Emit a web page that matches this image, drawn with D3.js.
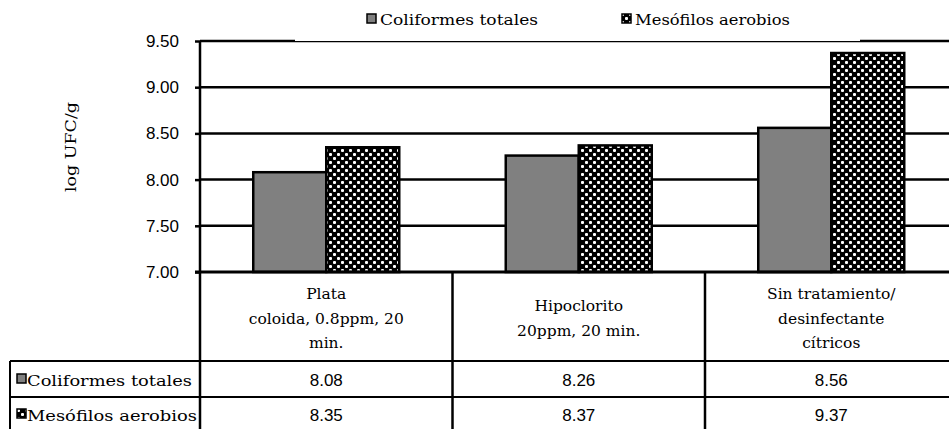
<!DOCTYPE html>
<html><head><meta charset="utf-8">
<script src="https://cdn.jsdelivr.net/npm/d3@7"></script>
<style>body{margin:0;background:#fff}svg{display:block}</style>
</head><body>
<svg id="c" width="949" height="429"></svg>
<script>
const categories = [["Plata", "coloida, 0.8ppm, 20", "min."], ["Hipoclorito", "20ppm, 20 min."], ["Sin tratamiento/", "desinfectante", "cítricos"]];
const seriesNames = ["Coliformes totales", "Mesófilos aerobios"];
const coliformes = [8.08, 8.26, 8.56];
const mesofilos = [8.35, 8.37, 9.37];
const yTicks = [7.0, 7.5, 8.0, 8.5, 9.0, 9.5];
const yTitle = "log UFC/g";

const svg = d3.select("#c");
const serif = "'DejaVu Serif', 'Liberation Serif', serif";
const sans = "'Liberation Sans', Arial, sans-serif";

const defs = svg.append("defs");
const pat = defs.append("pattern").attr("id", "chk").attr("patternUnits", "userSpaceOnUse")
  .attr("width", 8).attr("height", 8);
pat.append("rect").attr("width", 8).attr("height", 8).attr("fill", "#000");
pat.append("rect").attr("x", 1).attr("y", 1).attr("width", 3).attr("height", 3).attr("rx", 1).attr("fill", "#fff");
pat.append("rect").attr("x", 5).attr("y", 5).attr("width", 3).attr("height", 3).attr("rx", 1).attr("fill", "#fff");

const fills = ["#808080", "url(#chk)"];
const values = [coliformes, mesofilos];

const x0 = 200, right = 957.5, yTop = 41, yBot = 272;
const y = d3.scaleLinear().domain([7, 9.5]).range([yBot, yTop]);
const catIdx = categories.map((d, i) => i);
const x = d3.scaleBand().domain(catIdx).range([x0, right]).paddingInner(0).paddingOuter(0);
const xs = d3.scaleBand().domain([0, 1]).range([0, 146]);
const off = (x.bandwidth() - 146) / 2;

// gridlines
svg.append("g").selectAll("line").data(yTicks.slice(1)).join("line")
  .attr("x1", x0).attr("x2", 949).attr("y1", d => y(d)).attr("y2", d => y(d))
  .attr("stroke", "#000").attr("stroke-width", 2.5);

// y axis
const yAxis = d3.axisLeft(y).tickValues(yTicks).tickFormat(d3.format(".2f")).tickSize(5).tickPadding(16);
const ga = svg.append("g").attr("transform", `translate(${x0},0)`).call(yAxis);
ga.select(".domain").remove();
ga.selectAll(".tick line").attr("stroke", "#000").attr("stroke-width", 2.5);
ga.selectAll(".tick text").attr("font-family", sans).attr("font-size", 17).attr("fill", "#000");

// bars
seriesNames.forEach((s, si) => {
  svg.append("g").selectAll("rect").data(values[si]).join("rect")
    .attr("x", (d, i) => x(i) + off + xs(si))
    .attr("y", d => y(d))
    .attr("width", xs.bandwidth())
    .attr("height", d => y(7) - y(d))
    .attr("fill", fills[si]).attr("stroke", "#000").attr("stroke-width", 2.5);
});

// axis lines
svg.append("line").attr("x1", x0).attr("x2", x0).attr("y1", yTop).attr("y2", 429).attr("stroke", "#000").attr("stroke-width", 2.5);
svg.append("line").attr("x1", x0 - 5).attr("x2", 949).attr("y1", yBot).attr("y2", yBot).attr("stroke", "#000").attr("stroke-width", 3);

// table lines
const row1 = 361, row2 = 397;
[row1, row2].forEach(r => svg.append("line").attr("x1", 10).attr("x2", 949).attr("y1", r).attr("y2", r).attr("stroke", "#000").attr("stroke-width", 2));
svg.append("line").attr("x1", 10).attr("x2", 10).attr("y1", row1).attr("y2", 429).attr("stroke", "#000").attr("stroke-width", 2);
catIdx.slice(1).forEach(i => svg.append("line").attr("x1", x(i)).attr("x2", x(i)).attr("y1", yBot).attr("y2", 429).attr("stroke", "#000").attr("stroke-width", 2.5));

// category labels
categories.forEach((lines, i) => {
  const cx = x(i) + x.bandwidth() / 2;
  const n = lines.length;
  const startY = n === 3 ? 299 : 311;
  lines.forEach((t, j) => {
    svg.append("text").attr("x", cx).attr("y", startY + j * 24.5).attr("text-anchor", "middle")
      .attr("font-family", serif).attr("font-size", 15.5).text(t);
  });
});

// table rows
const rowY = [386, 421];
seriesNames.forEach((s, si) => {
  const ry = rowY[si];
  svg.append("rect").attr("x", 17).attr("y", ry - 12).attr("width", 9).attr("height", 9)
    .attr("fill", si === 0 ? "#808080" : "url(#chk)").attr("stroke", "#000").attr("stroke-width", 1.5);
  svg.append("text").attr("x", 27).attr("y", ry).attr("font-family", serif).attr("font-size", 15.5)
    .attr("textLength", si === 0 ? 165 : 170).attr("lengthAdjust", "spacingAndGlyphs").text(s);
  values[si].forEach((v, i) => {
    svg.append("text").attr("x", x(i) + x.bandwidth() / 2).attr("y", ry).attr("text-anchor", "middle")
      .attr("font-family", sans).attr("font-size", 17).text(v.toFixed(2));
  });
});

// y title
svg.append("text").attr("transform", "translate(76,147) rotate(-90)").attr("text-anchor", "middle")
  .attr("font-family", serif).attr("font-size", 15.5)
  .attr("textLength", 90).attr("lengthAdjust", "spacingAndGlyphs").text(yTitle);

// legend
const lg = svg.append("g");
lg.append("rect").attr("x", 295).attr("y", 0).attr("width", 565).attr("height", 41).attr("fill", "#fff");
const legX = [367, 622];
const legW = [158, 155];
seriesNames.forEach((s, si) => {
  lg.append("rect").attr("x", legX[si]).attr("y", 14).attr("width", 9).attr("height", 9)
    .attr("fill", si === 0 ? "#808080" : "url(#chk)").attr("stroke", "#000").attr("stroke-width", 1.5);
  lg.append("text").attr("x", legX[si] + 13).attr("y", 25).attr("font-family", serif).attr("font-size", 14)
    .attr("textLength", legW[si]).attr("lengthAdjust", "spacingAndGlyphs").text(s);
});
</script>
</body></html>
